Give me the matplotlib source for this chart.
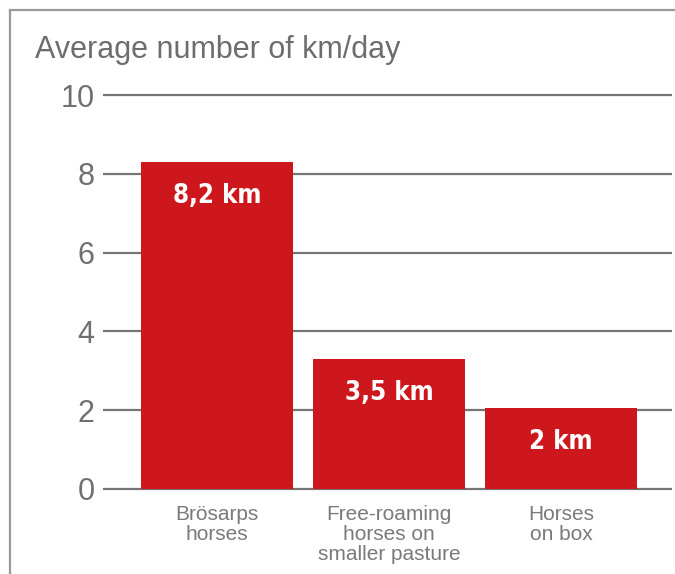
import matplotlib
matplotlib.use("Agg")
import matplotlib.pyplot as plt
from matplotlib.lines import Line2D

categories = ["Brösarps\nhorses", "Free-roaming\nhorses on\nsmaller pasture", "Horses\non box"]
values = [8.3, 3.3, 2.05]
bar_labels = ["8,2 km", "3,5 km", "2 km"]
yticks = [0, 2, 4, 6, 8, 10]
title = "Average number of km/day"

W, H = 675, 574
fig = plt.figure(figsize=(W / 100, H / 100), dpi=100)
fig.patch.set_facecolor("white")

# axes in pixel coordinates
ax_left, ax_right, ax_top, ax_bottom = 103, 672, 90, 495
ax = fig.add_axes([ax_left / W, 1 - ax_bottom / H, (ax_right - ax_left) / W, (ax_bottom - ax_top) / H])

x = list(range(len(categories)))
px_per_cat = 172.0
ax.set_xlim((ax_left - 217) / px_per_cat, (ax_right - 217) / px_per_cat)
unit = 39.3
zero_px = 489
ax.set_ylim(-(ax_bottom - zero_px) / unit, 10 + (95 - ax_top) / unit)

for t in yticks:
    ax.axhline(t, color="#757575", lw=1.6, zorder=1)

bars = ax.bar(x, values, width=152 / px_per_cat, color="#cd171c", zorder=2)

for xi, v, lab in zip(x, values, bar_labels):
    ax.annotate(lab, xy=(xi, v), xytext=(0, -34), textcoords="offset pixels",
                ha="center", va="center", color="white", fontsize=18.5, fontweight="bold",
                family="DejaVu Sans", fontstretch="condensed", zorder=3)

ax.set_yticks(yticks)
ax.set_yticklabels([str(t) for t in yticks], fontsize=22, color="#707070", family="Liberation Sans")
ax.set_xticks(x)
ax.set_xticklabels(categories, fontsize=15, color="#7a7a7a", family="Liberation Sans", linespacing=1.08)
ax.tick_params(axis="y", length=0, pad=6)
ax.tick_params(axis="x", length=0, pad=7)
for s in ax.spines.values():
    s.set_visible(False)
ax.set_facecolor("none")

fig.text(35 / W, 1 - 58 / H, title, fontsize=22, color="#6d6d6d", family="Liberation Sans",
         ha="left", va="baseline")

# outer frame (left and top)
fig.add_artist(Line2D([10 / W, 10 / W], [0, 1 - 10 / H], color="#9a9a9a", lw=1.6, transform=fig.transFigure))
fig.add_artist(Line2D([10 / W, 1], [1 - 10 / H, 1 - 10 / H], color="#9a9a9a", lw=1.6, transform=fig.transFigure))

fig.savefig("out.png", dpi=100)
